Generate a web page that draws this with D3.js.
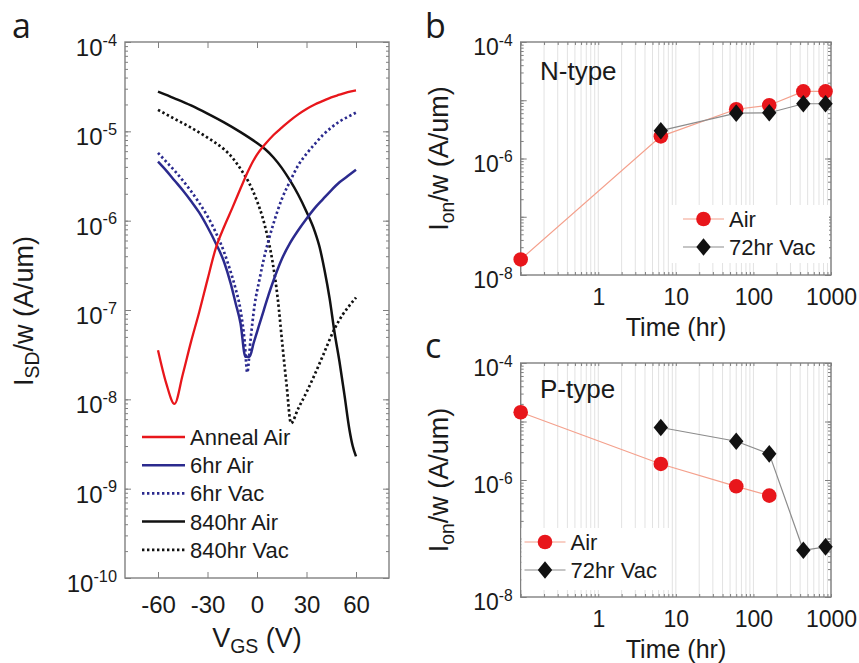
<!DOCTYPE html>
<html>
<head>
<meta charset="utf-8">
<script src="https://cdn.jsdelivr.net/npm/d3@7/dist/d3.min.js"></script>
<style>
body { margin: 0; background: #fff; }
svg { font-family: "Liberation Sans", Arial, sans-serif; }
</style>
</head>
<body>
<svg id="fig" width="859" height="663"></svg>
<script>
// ---- panel a : transfer curves (V_GS in V, I_SD/w in A/um) ----
const annealV = [-60,-55,-50,-45,-40,-35,-30,-25,-20,-15,-10,-5,0,5,10,15,20,25,30,35,40,45,50,55,60];
const annealAir = [3.55e-8,1.51e-8,8.9e-9,1.9e-8,4.4e-8,9.5e-8,2.19e-7,4.9e-7,8.5e-7,1.38e-6,2.29e-6,3.72e-6,5.5e-6,7.2e-6,9.1e-6,1.10e-5,1.32e-5,1.55e-5,1.78e-5,2.0e-5,2.19e-5,2.4e-5,2.57e-5,2.75e-5,2.88e-5];

const air6V = [-60,-55,-50,-45,-40,-35,-30,-25,-20,-16,-13,-10,-7,-4.5,-2,1,4,7,10,15,20,25,30,35,40,45,50,55,60];
const air6 = [4.57e-6,3.63e-6,2.82e-6,2.19e-6,1.66e-6,1.23e-6,8.5e-7,5.6e-7,3.47e-7,2.0e-7,1.2e-7,7.1e-8,3.0e-8,3.0e-8,4.3e-8,6.5e-8,9.8e-8,1.48e-7,2.14e-7,3.7e-7,5.6e-7,7.8e-7,1.05e-6,1.38e-6,1.74e-6,2.19e-6,2.69e-6,3.16e-6,3.72e-6];

const vac6V = [-60,-55,-50,-45,-40,-35,-30,-25,-20,-16,-13,-10,-7.5,-5.9,-4,-1.5,1.5,4,7.5,10,15,20,25,30,35,40,45,50,55,60];
const vac6 = [5.75e-6,4.57e-6,3.63e-6,2.82e-6,2.14e-6,1.58e-6,1.12e-6,7.4e-7,4.47e-7,2.69e-7,1.74e-7,1.0e-7,4.47e-8,2.0e-8,4.47e-8,1.12e-7,2.19e-7,3.63e-7,6.5e-7,9.3e-7,1.74e-6,2.75e-6,4.17e-6,5.6e-6,7.2e-6,9.1e-6,1.10e-5,1.29e-5,1.45e-5,1.62e-5];

const air840V = [-60,-50,-40,-30,-20,-10,0,5,10,15,20,25,30,35,38,41,44,47,50,53,56,58,60];
const air840 = [2.78e-5,2.34e-5,1.95e-5,1.58e-5,1.26e-5,9.8e-6,7.4e-6,6.3e-6,5.1e-6,3.9e-6,2.82e-6,1.95e-6,1.26e-6,7.6e-7,5.0e-7,2.75e-7,1.35e-7,5.6e-8,2.63e-8,1.12e-8,4.6e-9,3.0e-9,2.3e-9];

const vac840V = [-60,-50,-40,-30,-20,-15,-10,-5,0,3.5,6,9.5,12.5,15.5,18,20.6,25,30,35,40,46.7,52,56,60];
const vac840 = [1.74e-5,1.38e-5,1.10e-5,8.5e-6,6.3e-6,5.1e-6,3.8e-6,2.69e-6,1.66e-6,1.07e-6,7.1e-7,3.39e-7,1.38e-7,3.9e-8,1.41e-8,5.4e-9,7.9e-9,1.2e-8,1.9e-8,3.1e-8,6.0e-8,8.9e-8,1.12e-7,1.38e-7];

const curveNames = ['Anneal Air', '6hr Air', '6hr Vac', '840hr Air', '840hr Vac'];
const vgsTicks = [-60, -30, 0, 30, 60];

// ---- panels b, c : on-current vs time (hr) ----
const timeAir = [0.1, 6.4, 60, 160, 440, 850];
const timeVac = [6.4, 60, 160, 440, 850];
const nAir = [1.85e-8, 2.4e-6, 7.0e-6, 8.2e-6, 1.42e-5, 1.42e-5];
const nVac = [3.0e-6, 6.0e-6, 6.1e-6, 8.7e-6, 8.7e-6];
const timeAirP = [0.1, 6.4, 60, 160];
const pAir = [1.44e-5, 1.88e-6, 7.8e-7, 5.4e-7];
const pVac = [7.9e-6, 4.6e-6, 2.8e-6, 6.3e-8, 7.2e-8];
const timeTicks = [1, 10, 100, 1000];

const svg = d3.select('#fig');
const frameColor = '#808080';

const logMinor = (lo, hi) => {
	const out = [];
	for (let k = Math.round(Math.log10(lo)); k < Math.round(Math.log10(hi)); k++)
		for (let i = 1; i < 10; i++) out.push(i * Math.pow(10, k));
	out.push(hi);
	return out;
};

const supLabels = sel => {
	sel.selectAll('.tick text').each(function(d) {
		const t = d3.select(this);
		t.text(null);
		t.append('tspan').text('10');
		t.append('tspan').attr('dy', '-0.62em').attr('font-size', '0.68em')
			.text(Math.round(Math.log10(d)));
	});
};

const cleanAxis = g => {
	g.select('.domain').remove();
	g.selectAll('.tick line').attr('stroke', frameColor);
	g.attr('font-family', null);
};

// draws box, inward ticks and labels
function decorate(x, y, o) {
	const [x0, x1] = x.range(), [y0, y1] = y.range();
	const g = svg.append('g');
	if (o.grid) {
		g.append('g').selectAll('line').data(o.grid).join('line')
			.attr('x1', d => x(d)).attr('x2', d => x(d))
			.attr('y1', y1).attr('y2', y0)
			.attr('stroke', '#e2e2e2').attr('stroke-width', 1);
	}
	// y ticks, both sides
	const yMinor = logMinor(y.domain()[0], y.domain()[1]);
	[[d3.axisLeft, x0], [d3.axisRight, x1]].forEach(([ax, px]) => {
		g.append('g').attr('transform', `translate(${px},0)`)
			.call(ax(y).tickValues(yMinor).tickSize(-3).tickFormat(''))
			.call(cleanAxis);
		g.append('g').attr('transform', `translate(${px},0)`)
			.call(ax(y).tickValues(yMinor.filter(d => Math.abs(Math.log10(d) % 1) < 1e-6)).tickSize(-6).tickFormat(''))
			.call(cleanAxis);
	});
	// x ticks, both sides
	[[d3.axisBottom, y0], [d3.axisTop, y1]].forEach(([ax, py]) => {
		g.append('g').attr('transform', `translate(0,${py})`)
			.call(ax(x).tickValues(o.xTickMarks).tickSize(-o.xTickLen).tickFormat(''))
			.call(cleanAxis);
	});
	g.append('rect').attr('x', x0).attr('y', y1).attr('width', x1 - x0).attr('height', y0 - y1)
		.attr('fill', 'none').attr('stroke', frameColor).attr('stroke-width', 1.4);

	// labels
	const yl = svg.append('g').attr('transform', `translate(${x0},0)`)
		.call(d3.axisLeft(y).tickValues(o.yLabels).tickSize(0).tickPadding(8))
		.call(cleanAxis)
		.attr('font-size', o.tickFont);
	yl.selectAll('text').attr('dy', '0.56em').attr('fill', '#1a1a1a');
	yl.call(supLabels);

	const xl = svg.append('g').attr('transform', `translate(0,${y0})`)
		.call(d3.axisBottom(x).tickValues(o.xLabels).tickSize(0).tickPadding(o.xPad).tickFormat(d => String(d)))
		.call(cleanAxis)
		.attr('font-size', o.tickFont);
	xl.selectAll('text').attr('fill', '#1a1a1a');
}

// ---------- panel a ----------
const xA = d3.scaleLinear().domain([-80, 80]).range([125, 389]);
const yA = d3.scaleLog().domain([1e-10, 1e-4]).range([578, 42]);

decorate(xA, yA, {
	xTickMarks: vgsTicks, xTickLen: 6, xLabels: vgsTicks, xPad: 18,
	yLabels: [1e-4, 1e-5, 1e-6, 1e-7, 1e-8, 1e-9, 1e-10], tickFont: 24
});

const red = '#e8161b', navy = '#2b2a8e', black = '#111111';
const styles = [
	{ color: red, dash: null, w: 2.3 },
	{ color: navy, dash: null, w: 2.5 },
	{ color: navy, dash: '2.4,2.6', w: 2.7 },
	{ color: black, dash: null, w: 2.5 },
	{ color: black, dash: '2.4,2.6', w: 2.7 }
];
const seriesA = [
	[annealV, annealAir], [air6V, air6], [vac6V, vac6], [air840V, air840], [vac840V, vac840]
];
const lineA = d3.line().x(d => xA(d[0])).y(d => yA(d[1])).curve(d3.curveMonotoneX);

const gA = svg.append('g');
[4, 3, 2, 1, 0].forEach(i => {
	const [vx, vy] = seriesA[i];
	gA.append('path')
		.attr('d', lineA(vx.map((v, j) => [v, vy[j]])))
		.attr('fill', 'none')
		.attr('stroke', styles[i].color)
		.attr('stroke-width', styles[i].w)
		.attr('stroke-dasharray', styles[i].dash);
});

const legA = svg.append('g').attr('transform', 'translate(142,437)');
curveNames.forEach((name, i) => {
	const row = legA.append('g').attr('transform', `translate(0,${i * 28.2})`);
	row.append('line').attr('x1', 0).attr('x2', 43)
		.attr('stroke', styles[i].color).attr('stroke-width', styles[i].w)
		.attr('stroke-dasharray', styles[i].dash);
	row.append('text').attr('x', 48).attr('dy', '0.36em')
		.attr('font-size', 22).attr('fill', '#1a1a1a').text(name);
});

svg.append('text').attr('x', 257).attr('y', 647).attr('text-anchor', 'middle')
	.attr('font-size', 27).attr('fill', '#1a1a1a')
	.call(t => {
		t.append('tspan').text('V');
		t.append('tspan').attr('dy', '0.3em').attr('font-size', '0.72em').text('GS');
		t.append('tspan').attr('dy', '-0.22em').text(' (V)');
	});

const yTitle = (x, y, sub) => {
	svg.append('text').attr('transform', `translate(${x},${y}) rotate(-90)`)
		.attr('text-anchor', 'middle').attr('font-size', 27).attr('fill', '#1a1a1a')
		.call(t => {
			t.append('tspan').text('I');
			t.append('tspan').attr('dy', '0.3em').attr('font-size', '0.72em').text(sub);
			t.append('tspan').attr('dy', '-0.22em').text('/w (A/um)');
		});
};
yTitle(33, 311, 'SD');

// ---------- panels b and c ----------
const xB = d3.scaleLog().domain([0.1, 1000]).range([520.7, 831]);
const yB = d3.scaleLog().domain([1e-8, 1e-4]).range([275, 42]);
const xC = d3.scaleLog().domain([0.1, 1000]).range([520.7, 831]);
const yC = d3.scaleLog().domain([1e-8, 1e-4]).range([597, 363]);

const diamond = 'M0,-8.8L7.2,0L0,8.8L-7.2,0Z';

function timePanel(x, y, air, vac, airT, tag, legBox) {
	decorate(x, y, {
		grid: logMinor(0.1, 1000), xTickMarks: logMinor(0.1, 1000), xTickLen: 3,
		xLabels: timeTicks, xPad: 14,
		yLabels: [1e-4, 1e-6, 1e-8], tickFont: 23
	});
	const ln = d3.line().x(d => x(d[0])).y(d => y(d[1]));
	const airPts = airT.map((t, i) => [t, air[i]]);
	const vacPts = timeVac.map((t, i) => [t, vac[i]]);
	const g = svg.append('g');
	g.append('path').attr('d', ln(airPts)).attr('fill', 'none')
		.attr('stroke', '#f4a08c').attr('stroke-width', 1.2);
	g.append('path').attr('d', ln(vacPts)).attr('fill', 'none')
		.attr('stroke', '#8c8c8c').attr('stroke-width', 1.2);
	g.selectAll('circle').data(airPts).join('circle')
		.attr('cx', d => x(d[0])).attr('cy', d => y(d[1])).attr('r', 7.3)
		.attr('fill', red);
	g.selectAll('.dia').data(vacPts).join('path').attr('class', 'dia')
		.attr('d', diamond)
		.attr('transform', d => `translate(${x(d[0])},${y(d[1])})`)
		.attr('fill', black);

	svg.append('text').attr('x', 540).attr('y', y.range()[1] + (tag === 'N-type' ? 38 : 35))
		.attr('font-size', 26).attr('fill', '#1a1a1a').text(tag);

	// legend
	const lg = svg.append('g');
	lg.append('rect').attr('x', legBox[0]).attr('y', legBox[1])
		.attr('width', legBox[2]).attr('height', legBox[3]).attr('fill', '#fff');
	const lx = legBox[4], ly = legBox[1] + 14;
	[['Air', '#f4a08c'], ['72hr Vac', '#8c8c8c']].forEach(([name, c], i) => {
		const r = lg.append('g').attr('transform', `translate(${lx},${ly + i * 28})`);
		r.append('line').attr('x1', 0).attr('x2', 41).attr('stroke', c).attr('stroke-width', 1.2);
		if (i === 0) r.append('circle').attr('cx', 20.5).attr('r', 7.3).attr('fill', red);
		else r.append('path').attr('d', diamond).attr('transform', 'translate(20.5,0)').attr('fill', black);
		r.append('text').attr('x', 46).attr('dy', '0.36em').attr('font-size', 22)
			.attr('fill', '#1a1a1a').text(name);
	});

	svg.append('text').attr('x', 676).attr('y', y.range()[0] + 61).attr('text-anchor', 'middle')
		.attr('font-size', 25).attr('fill', '#1a1a1a').text('Time (hr)');
	yTitle(448, (y.range()[0] + y.range()[1]) / 2, 'on');
}

timePanel(xB, yB, nAir, nVac, timeAir, 'N-type', [671, 205, 158, 58, 683]);
timePanel(xC, yC, pAir, pVac, timeAirP, 'P-type', [521.5, 528, 148, 62, 524.5]);

// panel letters
[['a', 12, 38], ['b', 425, 38], ['c', 425, 358]].forEach(([s, x, y]) => {
	svg.append('text').attr('x', x).attr('y', y).attr('font-family', '"Open Sans", sans-serif')
		.attr('font-size', 34).attr('fill', '#1a1a1a').text(s);
});
</script>
</body>
</html>
